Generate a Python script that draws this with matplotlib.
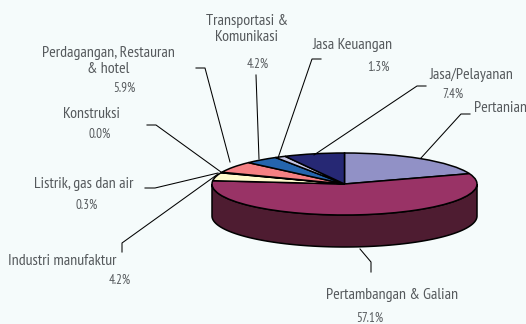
import numpy as np
import matplotlib
matplotlib.use('Agg')
import matplotlib.pyplot as plt
from matplotlib.transforms import Affine2D

categories = ['Pertanian', 'Pertambangan & Galian', 'Industri manufaktur', 'Listrik, gas dan air',
              'Konstruksi', 'Perdagangan, Restauran\n& hotel', 'Transportasi &\nKomunikasi',
              'Jasa Keuangan', 'Jasa/Pelayanan']
values = [19.6, 57.1, 4.2, 0.3, 0.0, 5.9, 4.2, 1.3, 7.4]
colors = ['#9191C6', '#993366', '#FFFBCC', '#D8F0F0', '#660066', '#F58083', '#2565AE', '#C4C4E4', '#262874']
side_color = '#4E1C31'
bg = '#F5FBFB'
text_color = '#55595C'
W, H = 526, 324
CX, CY, RX, RY, DEPTH = 344.5, 184.0, 132.5, 31.0, 32.0

plt.rcParams['font.family'] = ['PT Sans Narrow', 'Roboto Condensed', 'Archivo Narrow', 'Liberation Sans', 'DejaVu Sans']
fig = plt.figure(figsize=(W / 100, H / 100), dpi=100, facecolor=bg)
ax = fig.add_axes([0, 0, 1, 1])
ax.set_facecolor(bg)
xlim = (-CX / RX, (W - CX) / RX)
ylim = ((CY - H) / RY, CY / RY)

# side wall of the 3-D pie
t = np.linspace(np.pi, 2 * np.pi, 200)
d = DEPTH / RY
xs = np.concatenate([np.cos(t), np.cos(t[::-1])])
ys = np.concatenate([np.sin(t), np.sin(t[::-1]) - d])
ax.fill(xs, ys, facecolor=side_color, edgecolor='black', lw=1.1, zorder=1)

ax.pie(values, colors=colors, startangle=90, counterclock=False, radius=1, center=(0, 0),
       wedgeprops=dict(edgecolor='black', linewidth=1.1, zorder=2), normalize=True)
ax.set_aspect('auto')
ax.set_xlim(*xlim)
ax.set_ylim(*ylim)
ax.axis('off')

# pixel coordinates, origin top-left
px = Affine2D().scale(1, -1).translate(0, H)

leaders = [
    ([470, 461, 421], [114, 114, 158]),
    ([371, 371, 360], [272, 262, 249]),
    ([122, 122, 218], [252, 243, 174]),
    ([145, 155, 218], [188, 188, 173]),
    ([147, 156, 221], [125, 125, 172]),
    ([196, 205, 230], [68, 68, 162]),
    ([256, 259], [75, 159]),
    ([321, 312, 278], [59, 59, 158]),
    ([426, 417, 314], [86, 86, 155]),
]
for lx, ly in leaders:
    ax.plot(lx, ly, color='black', lw=0.75, transform=px, zorder=3, clip_on=False)

name_pos = [(500.5, 108), (392, 295), (62, 261), (84, 184), (92, 114), (108, 61), (247, 29), (352, 45), (471, 75)]
pct_pos = [None, (370, 318), (120, 280), (87, 205), (100, 134), (124, 88), (258, 64), (378, 67), (453, 94)]
for name, val, np_, pp in zip(categories, values, name_pos, pct_pos):
    ax.text(*np_, name, transform=px, ha='center', va='center', fontsize=11.4, color=text_color,
            linespacing=1.25, zorder=4)
    if pp is not None:
        ax.text(*pp, f'{val:.1f}%', transform=px, ha='center', va='center', fontsize=9.4,
                color=text_color, zorder=4)

fig.savefig('out.png', dpi=100, facecolor=bg)
